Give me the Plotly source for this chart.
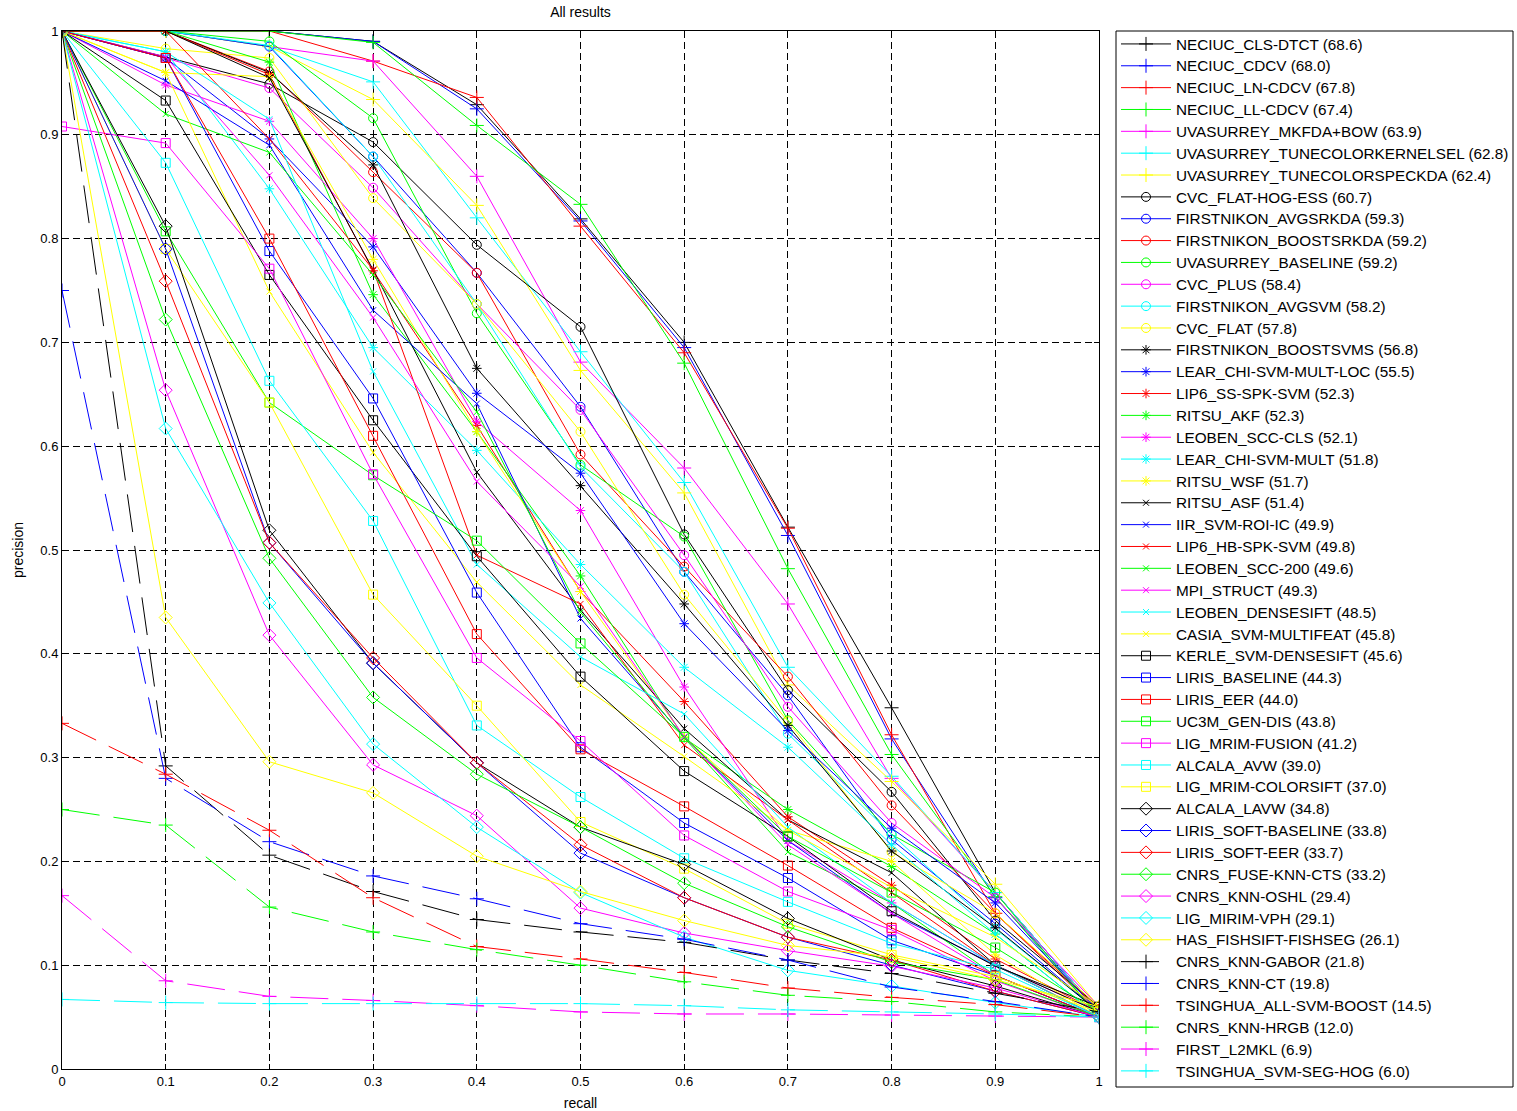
import plotly.graph_objects as go

recall = [0, 0.1, 0.2, 0.3, 0.4, 0.5, 0.6, 0.7, 0.8, 0.9, 1.0]
tick_vals = [0, 0.1, 0.2, 0.3, 0.4, 0.5, 0.6, 0.7, 0.8, 0.9, 1.0]
tick_text = ["0", "0.1", "0.2", "0.3", "0.4", "0.5", "0.6", "0.7", "0.8", "0.9", "1"]

names_plus = ["NECIUC_CLS-DTCT (68.6)", "NECIUC_CDCV (68.0)", "NECIUC_LN-CDCV (67.8)",
              "NECIUC_LL-CDCV (67.4)", "UVASURREY_MKFDA+BOW (63.9)",
              "UVASURREY_TUNECOLORKERNELSEL (62.8)", "UVASURREY_TUNECOLORSPECKDA (62.4)"]
prec_plus = [
    [1, 1, 1, 0.99, 0.929, 0.819, 0.70, 0.522, 0.348, 0.17, 0.055],
    [1, 1, 1, 0.99, 0.925, 0.817, 0.695, 0.514, 0.318, 0.165, 0.055],
    [1, 1, 1, 0.971, 0.936, 0.812, 0.69, 0.521, 0.322, 0.15, 0.055],
    [1, 1, 1, 0.989, 0.909, 0.833, 0.68, 0.482, 0.303, 0.166, 0.05],
    [1, 1, 0.985, 0.971, 0.86, 0.681, 0.579, 0.448, 0.28, 0.17, 0.055],
    [1, 1, 0.985, 0.951, 0.82, 0.691, 0.565, 0.387, 0.282, 0.17, 0.055],
    [1, 1, 0.985, 0.934, 0.832, 0.673, 0.555, 0.37, 0.277, 0.178, 0.06],
]

names_circle = ["CVC_FLAT-HOG-ESS (60.7)", "FIRSTNIKON_AVGSRKDA (59.3)", "FIRSTNIKON_BOOSTSRKDA (59.2)",
                "UVASURREY_BASELINE (59.2)", "CVC_PLUS (58.4)", "FIRSTNIKON_AVGSVM (58.2)", "CVC_FLAT (57.8)"]
prec_circle = [
    [1, 0.975, 0.949, 0.893, 0.794, 0.715, 0.515, 0.365, 0.267, 0.143, 0.06],
    [1, 1, 0.985, 0.879, 0.767, 0.638, 0.479, 0.36, 0.221, 0.14, 0.055],
    [1, 1, 0.961, 0.864, 0.767, 0.592, 0.484, 0.378, 0.254, 0.15, 0.058],
    [1, 1, 0.99, 0.916, 0.728, 0.582, 0.513, 0.336, 0.226, 0.17, 0.05],
    [1, 0.974, 0.945, 0.849, 0.737, 0.635, 0.495, 0.349, 0.237, 0.165, 0.06],
    [1, 1, 0.986, 0.879, 0.737, 0.58, 0.479, 0.323, 0.226, 0.135, 0.055],
    [1, 0.983, 0.974, 0.839, 0.737, 0.614, 0.457, 0.335, 0.209, 0.15, 0.06],
]

names_star = ["FIRSTNIKON_BOOSTSVMS (56.8)", "LEAR_CHI-SVM-MULT-LOC (55.5)", "LIP6_SS-SPK-SVM (52.3)",
              "RITSU_AKF (52.3)", "LEOBEN_SCC-CLS (52.1)", "LEAR_CHI-SVM-MULT (51.8)", "RITSU_WSF (51.7)"]
prec_star = [
    [1, 1, 0.96, 0.871, 0.675, 0.562, 0.448, 0.331, 0.21, 0.136, 0.055],
    [1, 0.974, 0.896, 0.792, 0.651, 0.574, 0.429, 0.326, 0.232, 0.16, 0.055],
    [1, 1, 0.958, 0.769, 0.62, 0.46, 0.354, 0.243, 0.177, 0.106, 0.055],
    [1, 1, 0.97, 0.746, 0.614, 0.475, 0.319, 0.25, 0.195, 0.13, 0.05],
    [1, 0.948, 0.913, 0.80, 0.624, 0.538, 0.368, 0.22, 0.16, 0.1, 0.055],
    [1, 0.98, 0.848, 0.695, 0.596, 0.486, 0.387, 0.31, 0.216, 0.13, 0.05],
    [1, 0.96, 0.956, 0.78, 0.614, 0.46, 0.32, 0.23, 0.2, 0.11, 0.05],
]

names_x = ["RITSU_ASF (51.4)", "IIR_SVM-ROI-IC (49.9)", "LIP6_HB-SPK-SVM (49.8)", "LEOBEN_SCC-200 (49.6)",
           "MPI_STRUCT (49.3)", "LEOBEN_DENSESIFT (48.5)", "CASIA_SVM-MULTIFEAT (45.8)"]
prec_x = [
    [1, 1, 0.955, 0.77, 0.575, 0.442, 0.328, 0.24, 0.189, 0.1, 0.055],
    [1, 0.952, 0.89, 0.731, 0.641, 0.434, 0.32, 0.22, 0.15, 0.1, 0.05],
    [1, 1, 0.896, 0.77, 0.495, 0.448, 0.312, 0.24, 0.17, 0.1, 0.05],
    [1, 0.92, 0.883, 0.765, 0.633, 0.44, 0.319, 0.209, 0.16, 0.09, 0.05],
    [1, 0.975, 0.861, 0.724, 0.566, 0.465, 0.32, 0.216, 0.15, 0.09, 0.05],
    [1, 0.98, 0.915, 0.672, 0.486, 0.397, 0.342, 0.233, 0.16, 0.1, 0.05],
    [1, 0.96, 0.749, 0.594, 0.469, 0.37, 0.301, 0.23, 0.175, 0.127, 0.06],
]

names_square = ["KERLE_SVM-DENSESIFT (45.6)", "LIRIS_BASELINE (44.3)", "LIRIS_EER (44.0)", "UC3M_GEN-DIS (43.8)",
                "LIG_MRIM-FUSION (41.2)", "ALCALA_AVW (39.0)", "LIG_MRIM-COLORSIFT (37.0)"]
prec_square = [
    [1, 0.933, 0.765, 0.625, 0.494, 0.378, 0.287, 0.224, 0.152, 0.099, 0.06],
    [1, 0.974, 0.788, 0.646, 0.459, 0.31, 0.237, 0.184, 0.124, 0.09, 0.05],
    [1, 0.974, 0.80, 0.61, 0.419, 0.308, 0.253, 0.196, 0.136, 0.09, 0.05],
    [1, 0.807, 0.642, 0.572, 0.509, 0.41, 0.32, 0.224, 0.17, 0.117, 0.055],
    [0.908, 0.892, 0.771, 0.573, 0.396, 0.316, 0.225, 0.171, 0.134, 0.085, 0.05],
    [1, 0.873, 0.663, 0.528, 0.331, 0.262, 0.203, 0.161, 0.121, 0.096, 0.05],
    [1, 0.79, 0.642, 0.457, 0.35, 0.238, 0.193, 0.14, 0.11, 0.089, 0.055],
]

names_diamond = ["ALCALA_LAVW (34.8)", "LIRIS_SOFT-BASELINE (33.8)", "LIRIS_SOFT-EER (33.7)",
                 "CNRS_FUSE-KNN-CTS (33.2)", "CNRS_KNN-OSHL (29.4)", "LIG_MIRIM-VPH (29.1)",
                 "HAS_FISHSIFT-FISHSEG (26.1)"]
prec_diamond = [
    [1, 0.812, 0.519, 0.391, 0.295, 0.233, 0.197, 0.145, 0.105, 0.08, 0.05],
    [1, 0.79, 0.507, 0.391, 0.295, 0.208, 0.165, 0.127, 0.1, 0.075, 0.05],
    [1, 0.759, 0.507, 0.396, 0.295, 0.216, 0.165, 0.127, 0.105, 0.075, 0.05],
    [1, 0.722, 0.492, 0.358, 0.284, 0.233, 0.179, 0.137, 0.103, 0.086, 0.05],
    [1, 0.654, 0.418, 0.293, 0.244, 0.155, 0.131, 0.114, 0.099, 0.078, 0.05],
    [1, 0.617, 0.449, 0.313, 0.233, 0.17, 0.127, 0.095, 0.08, 0.064, 0.05],
    [1, 0.435, 0.296, 0.266, 0.205, 0.171, 0.143, 0.119, 0.108, 0.086, 0.06],
]

names_dashed = ["CNRS_KNN-GABOR (21.8)", "CNRS_KNN-CT (19.8)", "TSINGHUA_ALL-SVM-BOOST (14.5)",
                "CNRS_KNN-HRGB (12.0)", "FIRST_L2MKL (6.9)", "TSINGHUA_SVM-SEG-HOG (6.0)"]
prec_dashed = [
    [1, 0.292, 0.206, 0.171, 0.144, 0.132, 0.122, 0.105, 0.092, 0.073, 0.055],
    [0.75, 0.28, 0.219, 0.186, 0.164, 0.14, 0.125, 0.105, 0.079, 0.065, 0.05],
    [0.333, 0.284, 0.23, 0.165, 0.118, 0.106, 0.093, 0.078, 0.069, 0.062, 0.05],
    [0.25, 0.235, 0.156, 0.132, 0.115, 0.1, 0.084, 0.071, 0.065, 0.055, 0.05],
    [0.167, 0.085, 0.07, 0.066, 0.061, 0.055, 0.053, 0.053, 0.052, 0.051, 0.05],
    [0.067, 0.064, 0.063, 0.063, 0.063, 0.063, 0.061, 0.057, 0.055, 0.053, 0.05],
]

colors = ["#000000", "#0000FF", "#FF0000", "#00FF00", "#FF00FF", "#00FFFF", "#FFFF00"]

groups = [
    (names_plus, prec_plus, "cross-thin-open", 10, "solid"),
    (names_circle, prec_circle, "circle-open", 9, "solid"),
    (names_star, prec_star, "asterisk-open", 8, "solid"),
    (names_x, prec_x, "x-thin-open", 6, "solid"),
    (names_square, prec_square, "square-open", 9, "solid"),
    (names_diamond, prec_diamond, "diamond-open", 10, "solid"),
    (names_dashed, prec_dashed, "cross-thin-open", 10, "38px,14px"),
]

fig = go.Figure()
for names, precs, symbol, msize, dash in groups:
    for i, (nm, pr) in enumerate(zip(names, precs)):
        c = colors[i % len(colors)]
        fig.add_trace(go.Scatter(
            x=recall, y=pr, mode="lines+markers",
            name='<span style="font-size:15.3px">' + nm + '</span>',
            line=dict(color=c, width=1, dash=dash),
            marker=dict(symbol=symbol, size=msize, color=c, line=dict(color=c, width=1)),
        ))

axis_common = dict(
    range=[0, 1], tickvals=tick_vals, ticktext=tick_text,
    showgrid=True, gridcolor="#000000", gridwidth=1, griddash="7px,4px",
    showline=True, linecolor="#000000", linewidth=1, mirror="allticks",
    ticks="inside", ticklen=5, tickcolor="#000000", zeroline=False,
    tickfont=dict(size=13, color="#000000"), automargin=False,
)

L, T, PW, PH = 62, 31, 1037, 1038
W, H = 1517, 1111

fig.update_layout(
    width=W, height=H,
    margin=dict(l=L, r=W - L - PW, t=T, b=H - T - PH, autoexpand=False),
    plot_bgcolor="#FFFFFF", paper_bgcolor="#FFFFFF",
    font=dict(family="Liberation Sans, Arial, sans-serif", size=13, color="#000000"),
    title=dict(text="All results", x=0.5, xref="paper", xanchor="center",
               y=1 - 12 / H, yref="container", yanchor="middle",
               font=dict(size=14, color="#000000")),
    xaxis=dict(axis_common, title=dict(text="recall", standoff=14, font=dict(size=14))),
    yaxis=dict(axis_common, title=dict(text="precision", standoff=13, font=dict(size=14))),
    legend=dict(x=1116 / W, y=1 - (T - 3) / H, xref="container", yref="container",
                xanchor="left", yanchor="top",
                borderwidth=0, bgcolor="rgba(0,0,0,0)", maxheight=1100,
                font=dict(size=14.5, color="#000000"), itemwidth=50,
                traceorder="normal"),
    showlegend=True,
    shapes=[dict(type="rect", xref="paper", yref="paper",
                 x0=(1116 - L) / PW, x1=(1513 - L) / PW,
                 y0=(T + PH - 1087) / PH, y1=1.0,
                 line=dict(color="#000000", width=1), fillcolor="rgba(0,0,0,0)", layer="below")],
)

fig.write_html("out.html", config={"displayModeBar": False},
               post_script="document.body.style.margin='0px';")
